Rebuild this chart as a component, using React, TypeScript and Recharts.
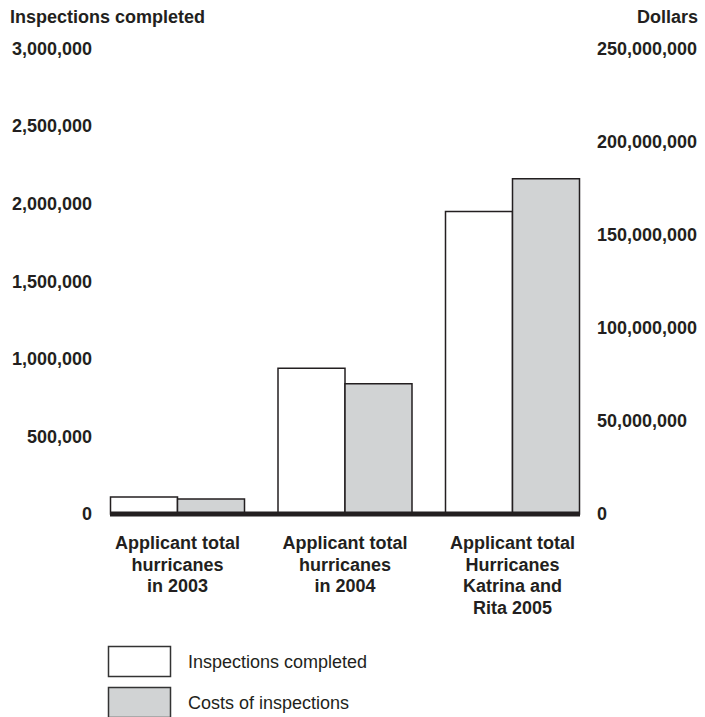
import React from 'react';
import { BarChart, Bar, XAxis, YAxis } from 'recharts';

const categories = ['2003', '2004', '2005'];
const categoryLabels = [
  ['Applicant total', 'hurricanes', 'in 2003'],
  ['Applicant total', 'hurricanes', 'in 2004'],
  ['Applicant total', 'Hurricanes', 'Katrina and', 'Rita 2005'],
];
const inspectionsCompleted = [110000, 940000, 1950000];
const costsOfInspections = [8000000, 70000000, 180000000];
const leftTicks = [0, 500000, 1000000, 1500000, 2000000, 2500000, 3000000];
const rightTicks = [0, 50000000, 100000000, 150000000, 200000000, 250000000];
const seriesNames = ['Inspections completed', 'Costs of inspections'];
const axisTitles = ['Inspections completed', 'Dollars'];

const data = categories.map((c, i) => ({
  key: c,
  inspections: inspectionsCompleted[i],
  costs: costsOfInspections[i],
}));

const INK = '#231f20';
const GRAY = '#d1d3d4';
const FONT = '"Liberation Sans", Arial, Helvetica, sans-serif';

const fmt = (v: number) => v.toLocaleString('en-US');

const CategoryTick = (props: any) => {
  const { x, y, payload } = props;
  const lines = categoryLabels[payload.index] || [];
  return (
    <text x={x} y={y} textAnchor="middle" fill={INK} fontFamily={FONT} fontSize={18} fontWeight="bold">
      {lines.map((l, i) => (
        <tspan key={i} x={x} dy={i === 0 ? 35 : 21.7}>
          {l}
        </tspan>
      ))}
    </text>
  );
};

export default function App() {
  return (
    <div style={{ position: 'relative', width: 705, height: 717, background: '#fff', fontFamily: FONT }}>
      <style>{'body{margin:0;}'}</style>
      <BarChart
        width={705}
        height={717}
        data={data}
        margin={{ top: 48.5, right: 0, bottom: 103, left: 0 }}
        barCategoryGap="10%"
        barGap={0}
      >
        <XAxis
          dataKey="key"
          height={100}
          interval={0}
          padding={{ left: -16.25, right: -16.25 }}
          axisLine={{ stroke: INK, strokeWidth: 5 }}
          tickLine={false}
          tickSize={0}
          tickMargin={0}
          tick={<CategoryTick />}
        />
        <YAxis
          yAxisId="left"
          orientation="left"
          width={110}
          domain={[0, 3000000]}
          ticks={leftTicks}
          tickFormatter={fmt}
          axisLine={false}
          tickLine={false}
          tickSize={0}
          tickMargin={18}
          tick={{ fill: INK, fontSize: 18, fontWeight: 'bold', fontFamily: FONT }}
        />
        <YAxis
          yAxisId="right"
          orientation="right"
          width={125}
          domain={[0, 250000000]}
          ticks={rightTicks}
          tickFormatter={fmt}
          axisLine={false}
          tickLine={false}
          tickSize={0}
          tickMargin={17}
          tick={{ fill: INK, fontSize: 18, fontWeight: 'bold', fontFamily: FONT }}
        />
        <Bar
          dataKey="inspections"
          name={seriesNames[0]}
          yAxisId="left"
          fill="#ffffff"
          stroke={INK}
          strokeWidth={1.5}
          isAnimationActive={false}
        />
        <Bar
          dataKey="costs"
          name={seriesNames[1]}
          yAxisId="right"
          fill={GRAY}
          stroke={INK}
          strokeWidth={1.5}
          isAnimationActive={false}
        />
      </BarChart>
      <svg
        width={705}
        height={717}
        style={{ position: 'absolute', left: 0, top: 0, pointerEvents: 'none' }}
      >
        <text x={10} y={22.5} fill={INK} fontFamily={FONT} fontSize={18} fontWeight="bold">
          {axisTitles[0]}
        </text>
        <text x={698} y={22.5} textAnchor="end" fill={INK} fontFamily={FONT} fontSize={18} fontWeight="bold">
          {axisTitles[1]}
        </text>
        <rect x={108.5} y={646.5} width={62} height={30} fill="#ffffff" stroke="#333" strokeWidth={1.5} />
        <text x={188} y={667.5} fill={INK} fontFamily={FONT} fontSize={18}>
          {seriesNames[0]}
        </text>
        <rect x={108.5} y={687.5} width={62} height={30} fill={GRAY} stroke="#333" strokeWidth={1.5} />
        <text x={188} y={709} fill={INK} fontFamily={FONT} fontSize={18}>
          {seriesNames[1]}
        </text>
      </svg>
    </div>
  );
}
